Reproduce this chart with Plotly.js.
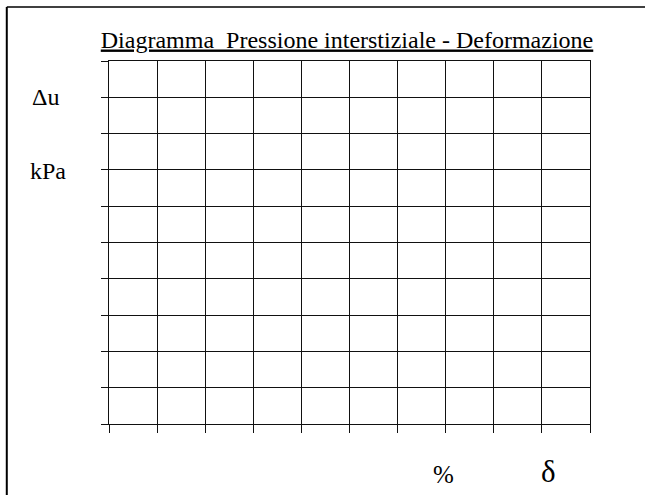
<!DOCTYPE html>
<html>
<head>
<meta charset="utf-8">
<script src="https://cdn.plot.ly/plotly-3.0.1.min.js"></script>
<style>
html,body{margin:0;padding:0;background:#fff;}
#chart{width:645px;height:495px;}
#chart svg text{font-family:"Liberation Serif",serif !important;}
</style>
</head>
<body>
<div id="chart"></div>
<script>
// Chart content (an empty grid form: no data series are plotted)
const chartTitle = "Diagramma  Pressione interstiziale - Deformazione";
const yLabelTop = "Δu";
const yLabelUnit = "kPa";
const xLabelUnit = "%";
const xLabelSymbol = "δ";
const xTicks = [0, 1, 2, 3, 4, 5, 6, 7, 8, 9, 10];
const yTicks = [0, 1, 2, 3, 4, 5, 6, 7, 8, 9, 10];
const seriesX = [];
const seriesY = [];

const data = [{
  type: 'scatter', mode: 'lines',
  x: seriesX, y: seriesY,
  line: {color: '#000', width: 1},
  showlegend: false, hoverinfo: 'skip'
}];

const axisCommon = {
  showgrid: true, gridcolor: '#111', gridwidth: 1,
  showline: true, linecolor: '#111', linewidth: 1, mirror: true,
  zeroline: false, showticklabels: false,
  ticks: 'outside', tickcolor: '#111', tickwidth: 1,
  tickmode: 'array', fixedrange: true
};

const layout = {
  width: 645, height: 495,
  margin: {l: 109, r: 55, t: 61, b: 71, pad: 0},
  paper_bgcolor: '#fff', plot_bgcolor: '#fff',
  font: {family: 'Liberation Serif', color: '#000'},
  title: {
    text: '<u>' + chartTitle + '</u>',
    font: {family: 'Liberation Serif', size: 24, color: '#000'},
    xref: 'container', yref: 'container',
    x: 0.538, xanchor: 'center',
    y: 0.921, yanchor: 'middle'
  },
  xaxis: Object.assign({}, axisCommon, {range: [xTicks[0], xTicks[xTicks.length - 1]], tickvals: xTicks, ticklen: 8}),
  yaxis: Object.assign({}, axisCommon, {range: [yTicks[0], yTicks[yTicks.length - 1]], tickvals: yTicks, ticklen: 7}),
  annotations: [
    {text: yLabelTop, xref: 'paper', yref: 'paper', x: -0.131, y: 0.901, xanchor: 'center', yanchor: 'middle', showarrow: false, font: {family: 'Liberation Serif', size: 24, color: '#000'}},
    {text: yLabelUnit, xref: 'paper', yref: 'paper', x: -0.127, y: 0.697, xanchor: 'center', yanchor: 'middle', showarrow: false, font: {family: 'Liberation Serif', size: 24, color: '#000'}},
    {text: xLabelUnit, xref: 'paper', yref: 'paper', x: 0.696, y: -0.138, xanchor: 'center', yanchor: 'middle', showarrow: false, font: {family: 'Liberation Serif', size: 25, color: '#000'}},
    {text: xLabelSymbol, xref: 'paper', yref: 'paper', x: 0.913, y: -0.132, xanchor: 'center', yanchor: 'middle', showarrow: false, font: {family: 'Liberation Serif', size: 31, color: '#000'}}
  ],
  shapes: [
    {type: 'line', xref: 'paper', yref: 'paper', x0: -0.2125, x1: -0.2125, y0: 1.1487, y1: -0.2, line: {color: '#000', width: 2}},
    {type: 'line', xref: 'paper', yref: 'paper', x0: -0.2125, x1: 1.12, y0: 1.1487, y1: 1.1487, line: {color: '#000', width: 1.5}}
  ]
};

Plotly.newPlot('chart', data, layout, {displayModeBar: false, staticPlot: true});
</script>
</body>
</html>
